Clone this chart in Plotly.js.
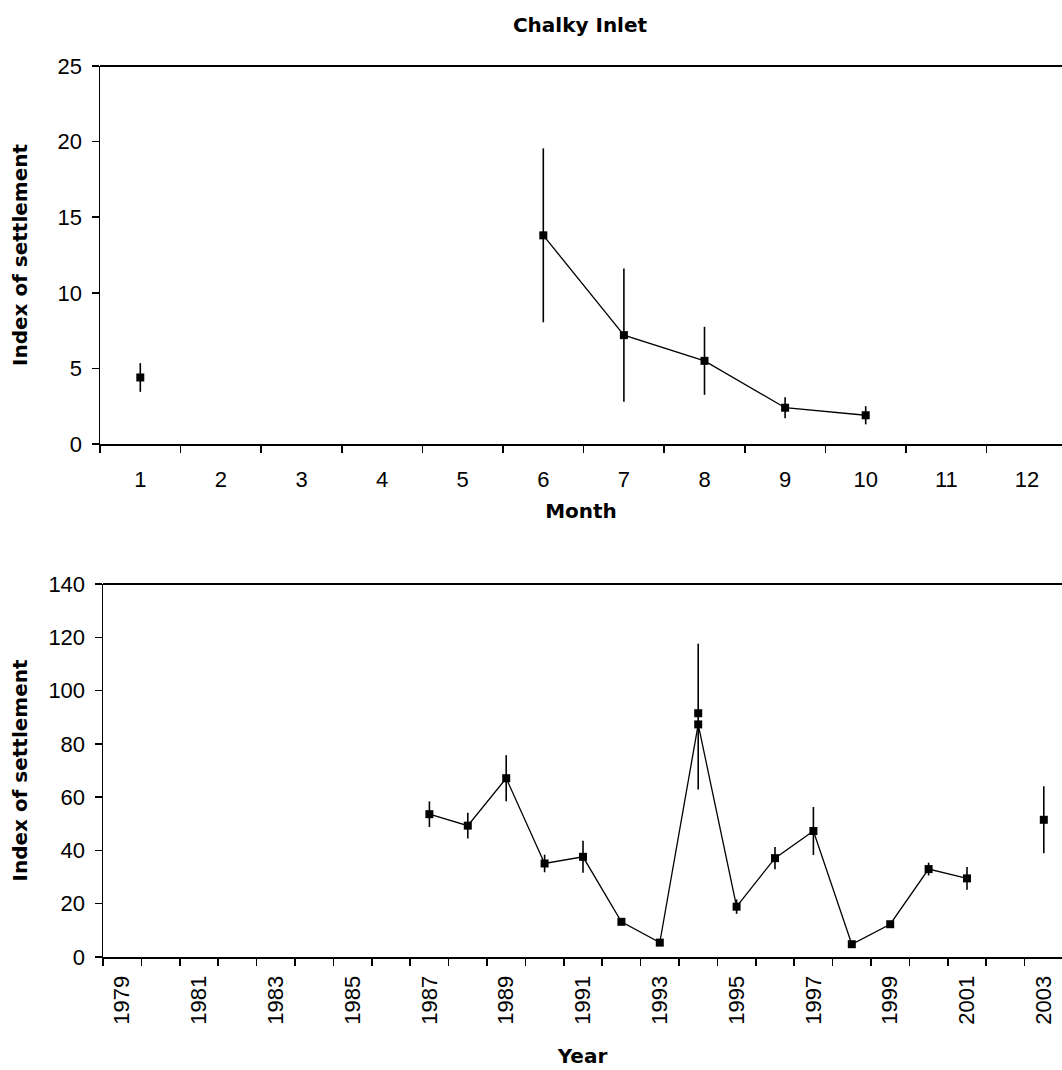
<!DOCTYPE html>
<html>
<head>
<meta charset="utf-8">
<script src="https://cdn.plot.ly/plotly-3.0.1.min.js"></script>
<style>html,body{margin:0;padding:0;background:#fff;}</style>
</head>
<body>
<div id="chart" style="width:1062px;height:1070px;"></div>
<script>
// ---- Data: monthly index of settlement (top panel) ----
var months      = [1, 2, 3, 4, 5, 6, 7, 8, 9, 10, 11, 12];
var monthLabels = ["1","2","3","4","5","6","7","8","9","10","11","12"];
var monthIndex  = [4.4, null, null, null, null, 13.8, 7.2, 5.5, 2.4, 1.9, null, null];
var monthErr    = [0.95, 0, 0, 0, 0, 5.75, 4.4, 2.25, 0.7, 0.6, 0, 0];

// ---- Data: yearly index of settlement (bottom panel) ----
var years      = [1979,1980,1981,1982,1983,1984,1985,1986,1987,1988,1989,1990,1991,1992,1993,1994,1995,1996,1997,1998,1999,2000,2001,2002,2003];
var yearLabels = ["1979","","1981","","1983","","1985","","1987","","1989","","1991","","1993","","1995","","1997","","1999","","2001","","2003"];
var yearIndex  = [null,null,null,null,null,null,null,null,53.6,49.3,67.1,35.1,37.6,13.2,5.4,87.3,18.9,37.1,47.3,4.8,12.3,33.0,29.5,null,51.5];
var yearErrPlus  = [0,0,0,0,0,0,0,0,4.8,4.8,8.6,3.3,6.0,0.8,0.5,30.3,2.7,4.2,9.0,0.5,1.0,2.4,4.3,0,12.6];
var yearErrMinus = [0,0,0,0,0,0,0,0,4.8,4.8,8.6,3.3,6.0,0.8,0.5,24.4,2.7,4.2,9.0,0.5,1.0,2.4,4.3,0,12.6];
// second marker drawn at 1994
var extraYear  = [1994];
var extraIndex = [91.5];

var monthTickVals = months;
var yearTickVals = years.filter(function(y, i){ return yearLabels[i] !== ""; });
var yearTickText = yearLabels.filter(function(t){ return t !== ""; });

var W = 1062, H = 1070;
var tickFont = {family: "Liberation Sans, Arial, sans-serif", size: 22, color: "#000"};
var titleFont = {family: "DejaVu Sans, sans-serif", size: 20, color: "#000", weight: "bold"};

var traces = [
  {
    x: months, y: monthIndex, xaxis: "x", yaxis: "y",
    type: "scatter", mode: "lines+markers", connectgaps: false,
    line: {color: "#000", width: 1.3},
    marker: {symbol: "square", size: 8, color: "#000"},
    error_y: {type: "data", array: monthErr, visible: true, color: "#000", thickness: 1.6, width: 0},
    hoverinfo: "skip"
  },
  {
    x: years, y: yearIndex, xaxis: "x2", yaxis: "y2",
    type: "scatter", mode: "lines+markers", connectgaps: false,
    line: {color: "#000", width: 1.3},
    marker: {symbol: "square", size: 8, color: "#000"},
    error_y: {type: "data", symmetric: false, array: yearErrPlus, arrayminus: yearErrMinus, visible: true, color: "#000", thickness: 1.6, width: 0},
    hoverinfo: "skip"
  },
  {
    x: extraYear, y: extraIndex, xaxis: "x2", yaxis: "y2",
    type: "scatter", mode: "markers",
    marker: {symbol: "square", size: 8, color: "#000"},
    hoverinfo: "skip"
  }
];

var L = 100;
var plotW = W - L;
function ydom(topPx, botPx){ return [(H - botPx) / H, (H - topPx) / H]; }

var layout = {
  width: W, height: H,
  margin: {l: L, r: 0, t: 0, b: 0, pad: 0},
  paper_bgcolor: "#fff", plot_bgcolor: "#fff",
  showlegend: false,
  title: {text: "Chalky Inlet", font: titleFont, x: 580 / W, xref: "container", xanchor: "center", y: 1 - 25 / H, yref: "container", yanchor: "middle"},
  xaxis: {
    domain: [0, 1], anchor: "y",
    range: [0.5, 0.5 + plotW / 80.6],
    tickmode: "array", tickvals: monthTickVals, ticktext: monthLabels,
    ticks: "", showgrid: false, zeroline: false,
    showline: true, linecolor: "#000", linewidth: 2,
    tickfont: tickFont, ticklabelstandoff: 15,
    minor: {tick0: 0.5, dtick: 1, ticks: "outside", ticklen: 7, tickwidth: 1.5, tickcolor: "#000", showgrid: false},
    title: {text: "Month", font: titleFont, standoff: 13},
    automargin: false, fixedrange: true
  },
  yaxis: {
    domain: ydom(66, 444), anchor: "x",
    range: [0, 25], tickmode: "array", tickvals: [0,5,10,15,20,25],
    ticks: "outside", ticklen: 7, tickwidth: 1.5, tickcolor: "#000",
    showgrid: false, zeroline: false,
    showline: true, linecolor: "#000", linewidth: 1.5,
    tickfont: tickFont, ticklabelstandoff: 5,
    title: {text: "Index of settlement", font: titleFont, standoff: 24},
    automargin: false, fixedrange: true
  },
  xaxis2: {
    domain: [3 / plotW, 1], anchor: "y2",
    range: [1978.5, 1978.5 + (plotW - 3) / 38.4],
    tickmode: "array", tickvals: yearTickVals, ticktext: yearTickText, tickangle: -90,
    ticks: "", showgrid: false, zeroline: false,
    showline: true, linecolor: "#000", linewidth: 2,
    tickfont: tickFont, ticklabelstandoff: 8,
    minor: {tick0: 1978.5, dtick: 1, ticks: "outside", ticklen: 7, tickwidth: 1.5, tickcolor: "#000", showgrid: false},
    title: {text: "Year", font: titleFont, standoff: 25},
    automargin: false, fixedrange: true
  },
  yaxis2: {
    domain: ydom(584, 957), anchor: "x2",
    range: [0, 140], tickmode: "array", tickvals: [0,20,40,60,80,100,120,140],
    ticks: "outside", ticklen: 7, tickwidth: 1.5, tickcolor: "#000",
    showgrid: false, zeroline: false,
    showline: true, linecolor: "#000", linewidth: 1.5,
    tickfont: tickFont, ticklabelstandoff: 5,
    title: {text: "Index of settlement", font: titleFont, standoff: 15},
    automargin: false, fixedrange: true
  },
  shapes: [
    {type: "line", xref: "x domain", yref: "y domain", x0: 0, x1: 1, y0: 1, y1: 1, line: {color: "#000", width: 2}},
    {type: "line", xref: "x2 domain", yref: "y2 domain", x0: 0, x1: 1, y0: 1, y1: 1, line: {color: "#000", width: 2}}
  ]
};

Plotly.newPlot("chart", traces, layout, {staticPlot: true, displayModeBar: false});
</script>
</body>
</html>
